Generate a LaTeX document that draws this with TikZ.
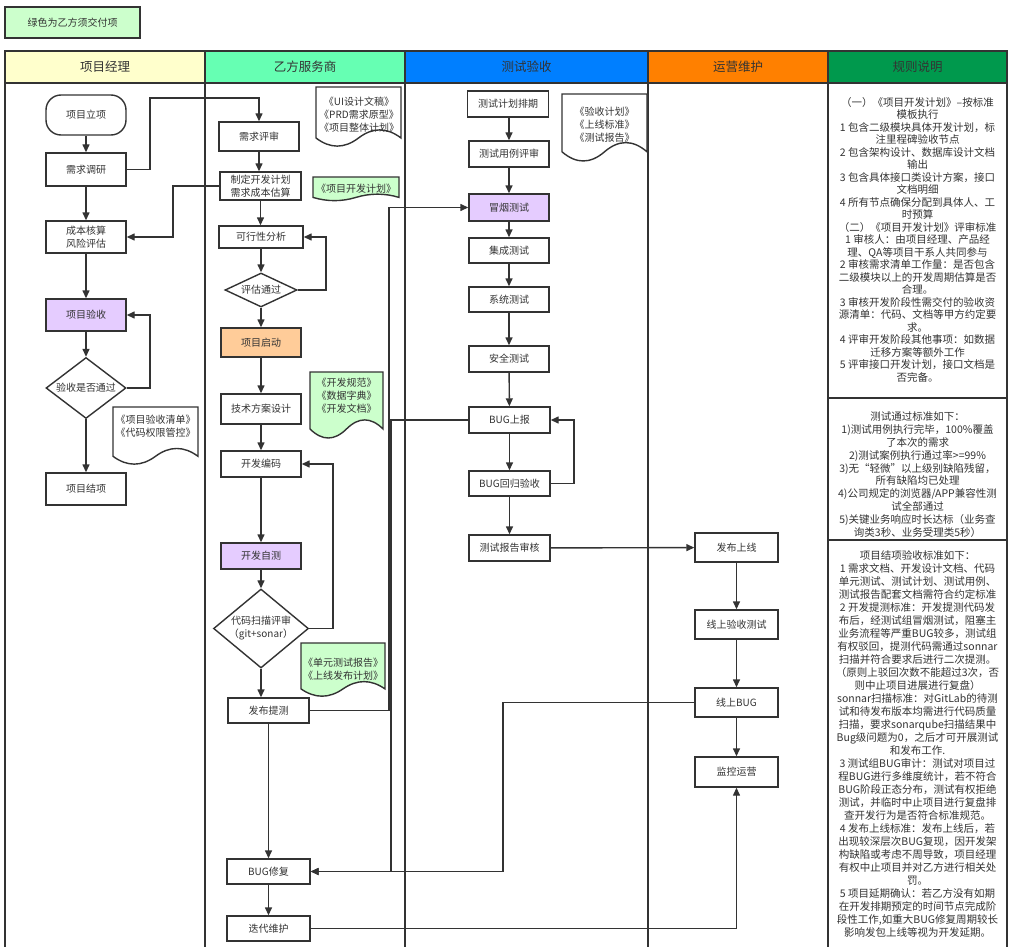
\documentclass[tikz,border=0pt]{standalone}
\usepackage{fontspec}
\setmainfont{Noto Sans CJK SC}
\usetikzlibrary{arrows.meta,shapes.geometric,calc}
\definecolor{lc}{HTML}{333333}
\definecolor{tc}{HTML}{333333}
\definecolor{hyellow}{HTML}{FFFFCC}
\definecolor{hmint}{HTML}{66FFB3}
\definecolor{hblue}{HTML}{007FFF}
\definecolor{horange}{HTML}{FF8000}
\definecolor{hgreen}{HTML}{00994D}
\definecolor{purp}{HTML}{E5CCFF}
\definecolor{orng}{HTML}{FFCC99}
\definecolor{lgreen}{HTML}{CCFFCC}

\newcommand\docpath[5]{%
  \pgfmathsetmacro\docW{#3-#1}%
  \pgfmathsetmacro\docH{#4-#2}%
  \pgfmathsetmacro\docY{0.3*\docH}%
  \pgfmathsetmacro\docS{#4-\docY/2}%
  \pgfmathsetmacro\docM{#1+\docW/2}%
  \pgfmathsetmacro\docUp{\docS-0.6*\docY}%
  \pgfmathsetmacro\docDn{\docS+0.6*\docY}%
  \pgfmathsetmacro\docRa{#3-\docW/6}%
  \pgfmathsetmacro\docRb{\docM+\docW/6}%
  \pgfmathsetmacro\docLa{\docM-\docW/6}%
  \pgfmathsetmacro\docLb{#1+\docW/6}%
  \path[draw=lc, line width=1.4pt, fill=#5] (#1,#2) -- (#3,#2) -- (#3,\docS)
    .. controls (\docRa,\docUp) and (\docRb,\docUp) .. (\docM,\docS)
    .. controls (\docLa,\docDn) and (\docLb,\docDn) .. (#1,\docS) -- cycle;
}
\newcommand\fsz[2]{\fontsize{#1}{#2}\selectfont\lineskiplimit=-50pt\lineskip=0pt\relax}

\tikzset{
  box/.style={draw=lc, line width=1.4pt, fill=white, inner sep=0pt, text=tc,
    font=\fsz{10}{13}, align=center},
  dia/.style={box, diamond},
  hdr/.style={draw=lc, line width=1.4pt, inner sep=0pt, text=tc,
    font=\fsz{12.5}{14}, minimum height=32pt},
  doctext/.style={inner sep=0pt, text=tc, align=center, font=\fsz{10}{13}},
  rule/.style={inner sep=0pt, text=tc, align=center, font=\fsz{10.5}{12.5}},
  arr/.style={draw=lc, line width=1.4pt, -{Triangle[length=8pt,width=7pt]}},
  lane/.style={draw=lc, line width=1.4pt},
}

\begin{document}
\begin{tikzpicture}[x=1pt,y=-1pt]
\useasboundingbox (0,0) rectangle (1012,947);
\fill[white] (0,0) rectangle (1012,947);

% legend
\node[box, fill=lgreen, minimum width=135pt, minimum height=31pt] (legend) at (72.5,22.5) {绿色为乙方须交付项};

% headers
\node[hdr, fill=hyellow, minimum width=200pt] (h1) at (105,67) {项目经理};
\node[hdr, fill=hmint, minimum width=200pt] (h2) at (305,67) {乙方服务商};
\node[hdr, fill=hblue, minimum width=243pt] (h3) at (526.5,67) {测试验收};
\node[hdr, fill=horange, minimum width=180pt] (h4) at (738,67) {运营维护};
\node[hdr, fill=hgreen, minimum width=179pt] (h5) at (917.5,67) {规则说明};

% lane lines
\draw[lane] (5,83) -- (5,947);
\draw[lane] (205,83) -- (205,947);
\draw[lane] (405,83) -- (405,947);
\draw[lane] (648,83) -- (648,947);
\draw[lane] (828,83) -- (828,947);
\draw[lane] (1007,83) -- (1007,947);
\draw[lane] (828,398) -- (1007,398);
\draw[lane] (828,540) -- (1007,540);

% documents
\docpath{316}{87}{401}{147}{white}
\node[doctext] (d1) at (359,115) {《UI设计文稿》\\《PRD需求原型》\\《项目整体计划》};
\docpath{313}{177}{399}{201}{lgreen}
\node[doctext] (d2) at (356,188.5) {《项目开发计划》};
\docpath{310}{372}{383}{439}{lgreen}
\node[doctext] (d3) at (346.5,396) {《开发规范》\\《数据字典》\\《开发文档》};
\docpath{301}{643}{385}{697}{lgreen}
\node[doctext] (d4) at (343,669) {《单元测试报告》\\《上线发布计划》};
\docpath{113}{407}{198}{465}{white}
\node[doctext] (d5) at (155.5,426) {《项目验收清单》\\《代码权限管控》};
\docpath{562}{94}{647}{162}{white}
\node[doctext] (d6) at (604.5,124.5) {《验收计划》\\《上线标准》\\《测试报告》};

% lane 1
\node[box, rounded corners=15pt, minimum width=80pt, minimum height=40pt] (n1) at (86,115) {项目立项};
\node[box, minimum width=80pt, minimum height=33pt] (n2) at (86,169.5) {需求调研};
\node[box, minimum width=80pt, minimum height=32pt] (n3) at (86,237) {成本核算\\风险评估};
\node[box, fill=purp, minimum width=80pt, minimum height=32pt] (n4) at (86,315) {项目验收};
\node[dia, aspect=1.33, minimum width=80pt, minimum height=61pt] (n5) at (86,388) {验收是否通过};
\node[box, minimum width=80pt, minimum height=32pt] (n6) at (86,489) {项目结项};

% lane 2
\node[box, minimum width=80pt, minimum height=29pt] (r1) at (259,136.5) {需求评审};
\node[box, minimum width=81pt, minimum height=28pt, font=\fsz{10}{12.5}] (r2) at (260.5,186) {制定开发计划\\需求成本估算};
\node[box, minimum width=84pt, minimum height=22pt] (r3) at (261,237) {可行性分析};
\node[dia, aspect=2.1, minimum width=72pt, minimum height=34pt] (rd1) at (261,290) {评估通过};
\node[box, fill=orng, minimum width=80pt, minimum height=29pt] (r4) at (261,342.5) {项目启动};
\node[box, minimum width=80pt, minimum height=30pt] (r5) at (261,409) {技术方案设计};
\node[box, minimum width=80pt, minimum height=26pt] (r6) at (261,464) {开发编码};
\node[box, fill=purp, minimum width=80pt, minimum height=26pt] (r7) at (261,556) {开发自测};
\node[dia, aspect=1.2, minimum width=95pt, minimum height=79pt] (rd2) at (261,628.5) {代码扫描评审\\（git+sonar）};
\node[box, minimum width=81pt, minimum height=25pt] (r8) at (268.5,710.5) {发布提测};
\node[box, minimum width=83pt, minimum height=25pt] (r9) at (268.5,871.5) {BUG修复};
\node[box, minimum width=83pt, minimum height=25pt] (r10) at (268.5,928.5) {迭代维护};

% lane 3
\node[box, minimum width=81pt, minimum height=26pt] (t1) at (508,104) {测试计划排期};
\node[box, minimum width=80pt, minimum height=26pt] (t2) at (509,154) {测试用例评审};
\node[box, fill=purp, minimum width=80pt, minimum height=27pt] (t3) at (509,207.5) {冒烟测试};
\node[box, minimum width=80pt, minimum height=25pt] (t4) at (509,250.5) {集成测试};
\node[box, minimum width=80pt, minimum height=25pt] (t5) at (509,299.5) {系统测试};
\node[box, minimum width=80pt, minimum height=26pt] (t6) at (509,359) {安全测试};
\node[box, minimum width=81pt, minimum height=26pt] (t7) at (509.5,420) {BUG上报};
\node[box, minimum width=81pt, minimum height=25pt] (t8) at (509.5,483.5) {BUG回归验收};
\node[box, minimum width=81pt, minimum height=26pt] (t9) at (509.5,548) {测试报告审核};

% lane 4
\node[box, minimum width=83pt, minimum height=29pt] (o1) at (736.5,547.5) {发布上线};
\node[box, minimum width=83pt, minimum height=29pt] (o2) at (736.5,624.5) {线上验收测试};
\node[box, minimum width=83pt, minimum height=29pt] (o3) at (736.5,702.5) {线上BUG};
\node[box, minimum width=83pt, minimum height=30pt] (o4) at (736.5,772) {监控运营};

% rules
\node[rule] (rule1) at (917.5,239.5) {（一）《项目开发计划》--按标准\\模板执行\\1 包含二级模块具体开发计划，标\\注里程碑验收节点\\2 包含架构设计、数据库设计文档\\输出\\3 包含具体接口类设计方案，接口\\文档明细\\4 所有节点确保分配到具体人、工\\时预算\\（二）《项目开发计划》评审标准\\1 审核人：由项目经理、产品经\\理、QA等项目干系人共同参与\\2 审核需求清单工作量：是否包含\\二级模块以上的开发周期估算是否\\合理。\\3 审核开发阶段性需交付的验收资\\源清单：代码、文档等甲方约定要\\求。\\4 评审开发阶段其他事项：如数据\\迁移方案等额外工作\\5 评审接口开发计划，接口文档是\\否完备。};
\node[rule, font=\fsz{10.5}{12.8}] (rule2) at (917.5,474.5) {测试通过标准如下：\\1)测试用例执行完毕，100\%覆盖\\了本次的需求\\2)测试案例执行通过率>=99\%\\3)无“轻微”以上级别缺陷残留，\\所有缺陷均已处理\\4)公司规定的浏览器/APP兼容性测\\试全部通过\\5)关键业务响应时长达标（业务查\\询类3秒、业务受理类5秒）};
\node[rule, font=\fsz{10.5}{13}] (rule3) at (917.5,744.5) {项目结项验收标准如下：\\1 需求文档、开发设计文档、代码\\单元测试、测试计划、测试用例、\\测试报告配套文档需符合约定标准\\2 开发提测标准：开发提测代码发\\布后，经测试组冒烟测试，阻塞主\\业务流程等严重BUG较多，测试组\\有权驳回，提测代码需通过sonnar\\扫描并符合要求后进行二次提测。\\（原则上驳回次数不能超过3次，否\\则中止项目进展进行复盘）\\sonnar扫描标准：对GitLab的待测\\试和待发布版本均需进行代码质量\\扫描，要求sonarqube扫描结果中\\Bug级问题为0，之后才可开展测试\\和发布工作.\\3 测试组BUG审计：测试对项目过\\程BUG进行多维度统计，若不符合\\BUG阶段正态分布，测试有权拒绝\\测试，并临时中止项目进行复盘排\\查开发行为是否符合标准规范。\\4 发布上线标准：发布上线后，若\\出现较深层次BUG复现，因开发架\\构缺陷或考虑不周导致，项目经理\\有权中止项目并对乙方进行相关处\\罚。\\5 项目延期确认：若乙方没有如期\\在开发排期预定的时间节点完成阶\\段性工作,如重大BUG修复周期较长\\影响发包上线等视为开发延期。};

% connectors lane 1
\draw[arr] (n1) -- (n2);
\draw[arr] (n2) -- (n3);
\draw[arr] (n3) -- (n4);
\draw[arr] (n4) -- (n5);
\draw[arr] (n5) -- (n6);
\draw[arr] (n5.east) -- (150,388) |- (n4.east);
\draw[arr] (n2.east) -- (150,169.5) -- (150,98) -| (r1.north);

% lane 2
\draw[arr] (r1.south) -- (r1.south |- r2.north);
\draw[arr] (r2.south) -- (r2.south |- r3.north);
\draw[arr] (r3) -- (rd1);
\draw[arr] (rd1) -- (r4);
\draw[arr] (rd1.east) -- (326,290) |- (r3.east);
\draw[arr] (r2.west) -- (173,186) |- (n3.east);
\draw[arr] (r4) -- (r5);
\draw[arr] (r5) -- (r6);
\draw[arr] (r6) -- (r7);
\draw[arr] (r7) -- (rd2);
\draw[arr] (rd2.south) -- (rd2.south |- r8.north);
\draw[arr] (rd2.east) -- (333,628.5) |- (r6.east);
\draw[arr] (r8) -- (r9);
\draw[arr] (r9) -- (r10);
\draw[arr] (r8.east) -- (389,710.5) |- (t3.west);
\draw[arr] (t7.west) -- (391,420) |- (r9.east);
\draw[arr] (o3.west) -- (503,702.5) |- (r9.east);
\draw[arr] (r10.east) -| (o4.south);

% lane 3
\draw[arr] (t1.south -| t2.north) -- (t2.north);
\draw[arr] (t2) -- (t3);
\draw[arr] (t3) -- (t4);
\draw[arr] (t4) -- (t5);
\draw[arr] (t5) -- (t6);
\draw[arr] (t6) -- (t7);
\draw[arr] (t7) -- (t8);
\draw[arr] (t8) -- (t9);
\draw[arr] (t8.east) -- (574,483.5) |- (t7.east);
\draw[arr] (t9) -- (o1);

% lane 4
\draw[arr] (o1) -- (o2);
\draw[arr] (o2) -- (o3);
\draw[arr] (o3) -- (o4);
\end{tikzpicture}
\end{document}
